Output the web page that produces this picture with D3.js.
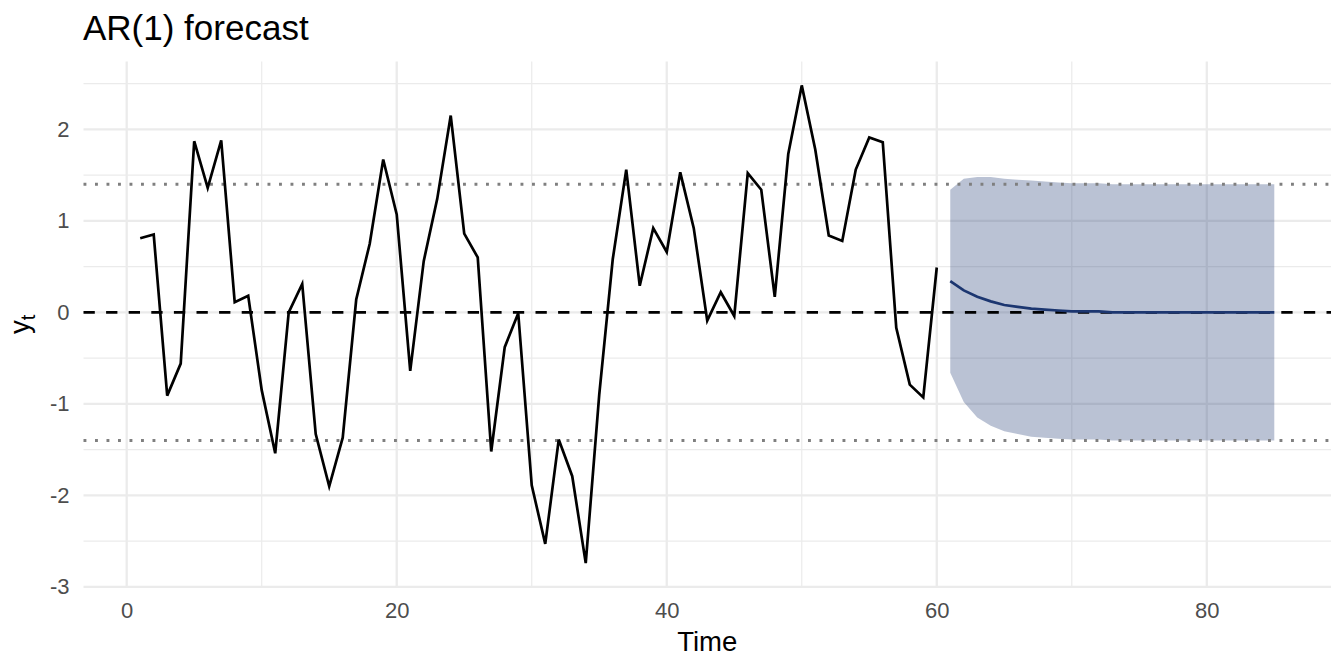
<!DOCTYPE html>
<html>
<head>
<meta charset="utf-8">
<script src="https://cdn.jsdelivr.net/npm/d3@7"></script>
<style>
  html, body { margin: 0; padding: 0; background: #ffffff; }
  svg text { font-family: "Liberation Sans", Arial, Helvetica, sans-serif; }
</style>
</head>
<body>
<div id="dataviz-container"></div>
<script>
// observed series, t = 1..60
const timeObs = d3.range(1, 61)
const yObs = [
    0.81, 0.85, -0.91, -0.56, 1.87, 1.36, 1.88, 0.11, 0.18, -0.85,
    -1.54, 0.00, 0.31, -1.33, -1.90, -1.37, 0.14, 0.75, 1.67, 1.07,
    -0.64, 0.56, 1.24, 2.15, 0.86, 0.60, -1.52, -0.38, -0.01, -1.89,
    -2.53, -1.39, -1.79, -2.74, -0.90, 0.58, 1.56, 0.29, 0.92, 0.66,
    1.53, 0.92, -0.09, 0.22, -0.04, 1.52, 1.34, 0.17, 1.73, 2.48,
    1.78, 0.84, 0.78, 1.56, 1.91, 1.86, -0.17, -0.79, -0.93, 0.49
]

// forecast, t = 61..85
const timeFc = d3.range(61, 86)
const fcMean = [
    0.34, 0.24, 0.17, 0.12, 0.08, 0.06, 0.04, 0.03, 0.02, 0.01,
    0.01, 0.01, 0.00, 0.00, 0.00, 0.00, 0.00, 0.00, 0.00, 0.00,
    0.00, 0.00, 0.00, 0.00, 0.00
]
const fcUpper = [
    1.34, 1.46, 1.48, 1.48, 1.46, 1.45, 1.44, 1.43, 1.42, 1.41,
    1.41, 1.41, 1.40, 1.40, 1.40, 1.40, 1.40, 1.40, 1.40, 1.40,
    1.40, 1.40, 1.40, 1.40, 1.40
]
const fcLower = [
    -0.66, -0.98, -1.15, -1.24, -1.30, -1.33, -1.36, -1.37, -1.38, -1.39,
    -1.39, -1.39, -1.40, -1.40, -1.40, -1.40, -1.40, -1.40, -1.40, -1.40,
    -1.40, -1.40, -1.40, -1.40, -1.40
]

// reference lines: mean and +/- limits
const hlineMean = 0
const hlineLimits = [-1.4, 1.4]

const xTicks = [0, 20, 40, 60, 80]
const xMinor = [10, 30, 50, 70]
const yTicks = [-3, -2, -1, 0, 1, 2]
const yMinor = [-2.5, -1.5, -0.5, 0.5, 1.5, 2.5]

const titleText = 'AR(1) forecast'
const xLabel = 'Time'

let margin = { top: 61.5, right: 13, bottom: 85, left: 83.5 }
let width = 1344 - margin.left - margin.right
let height = 672 - margin.top - margin.bottom

let obs = timeObs.map((t, i) => ({ t: t, y: yObs[i] }))
let fc = timeFc.map((t, i) => ({ t: t, m: fcMean[i], lo: fcLower[i], hi: fcUpper[i] }))

// ggplot-style 5% expansion
let xExt = [d3.min(timeObs), d3.max(timeFc)]
let xPad = (xExt[1] - xExt[0]) * 0.05
let allY = yObs.concat(fcUpper, fcLower, fcMean)
let yExt = d3.extent(allY)
let yPad = (yExt[1] - yExt[0]) * 0.05

let x = d3.scaleLinear()
    .domain([xExt[0] - xPad, xExt[1] + xPad])
    .range([0, width])

let y = d3.scaleLinear()
    .domain([yExt[0] - yPad, yExt[1] + yPad])
    .range([height, 0])

let svg = d3.select('#dataviz-container')
    .append('svg')
    .attr('width', 1344)
    .attr('height', 672)

let g = svg.append('g')
    .attr('transform', `translate(${margin.left}, ${margin.top})`)

// grid
const gridCol = '#ebebeb'
g.selectAll('.gy-minor').data(yMinor).enter().append('line')
    .attr('x1', 0).attr('x2', width)
    .attr('y1', (d) => y(d)).attr('y2', (d) => y(d))
    .attr('stroke', gridCol).attr('stroke-width', 1.2)
g.selectAll('.gx-minor').data(xMinor).enter().append('line')
    .attr('y1', 0).attr('y2', height)
    .attr('x1', (d) => x(d)).attr('x2', (d) => x(d))
    .attr('stroke', gridCol).attr('stroke-width', 1.2)
g.selectAll('.gy-major').data(yTicks).enter().append('line')
    .attr('x1', 0).attr('x2', width)
    .attr('y1', (d) => y(d)).attr('y2', (d) => y(d))
    .attr('stroke', gridCol).attr('stroke-width', 2.3)
g.selectAll('.gx-major').data(xTicks).enter().append('line')
    .attr('y1', 0).attr('y2', height)
    .attr('x1', (d) => x(d)).attr('x2', (d) => x(d))
    .attr('stroke', gridCol).attr('stroke-width', 2.3)

// forecast band
const fcCol = '#1c3670'
let area = d3.area()
    .x((d) => x(d.t))
    .y0((d) => y(d.lo))
    .y1((d) => y(d.hi))
g.append('path')
    .datum(fc)
    .attr('d', area)
    .attr('fill', fcCol)
    .attr('fill-opacity', 0.3)

// reference lines
g.selectAll('.limit').data(hlineLimits).enter().append('line')
    .attr('x1', 0).attr('x2', width)
    .attr('y1', (d) => y(d)).attr('y2', (d) => y(d))
    .attr('stroke', '#7f7f7f')
    .attr('stroke-width', 2.8)
    .attr('stroke-dasharray', '2.9,8.6')

g.append('line')
    .attr('x1', 0).attr('x2', width)
    .attr('y1', y(hlineMean)).attr('y2', y(hlineMean))
    .attr('stroke', '#000000')
    .attr('stroke-width', 2.8)
    .attr('stroke-dasharray', '11.3,11.3')

// forecast mean
let lineFc = d3.line()
    .x((d) => x(d.t))
    .y((d) => y(d.m))
g.append('path')
    .datum(fc)
    .attr('d', lineFc)
    .attr('fill', 'none')
    .attr('stroke', fcCol)
    .attr('stroke-width', 2.7)

// observed series
let lineObs = d3.line()
    .x((d) => x(d.t))
    .y((d) => y(d.y))
g.append('path')
    .datum(obs)
    .attr('d', lineObs)
    .attr('fill', 'none')
    .attr('stroke', '#000000')
    .attr('stroke-width', 2.7)
    .attr('stroke-linejoin', 'miter')

// axes (plain hyphen for negatives, as in the original)
let plain = (d) => String(d)
let xAxis = g.append('g')
    .attr('transform', `translate(0, ${height})`)
    .call(d3.axisBottom(x).tickValues(xTicks).tickSize(0).tickPadding(15).tickFormat(plain))
let yAxis = g.append('g')
    .call(d3.axisLeft(y).tickValues(yTicks).tickSize(0).tickPadding(14).tickFormat(plain))

;[xAxis, yAxis].forEach((a) => {
    a.select('.domain').remove()
    a.selectAll('text')
        .attr('fill', '#4d4d4d')
        .style('font-size', '22px')
        .style('font-family', '"Liberation Sans", Arial, Helvetica, sans-serif')
})

// titles
svg.append('text')
    .attr('x', 83)
    .attr('y', 40)
    .attr('font-size', '35px')
    .attr('fill', '#000000')
    .text(titleText)

svg.append('text')
    .attr('x', margin.left + width / 2)
    .attr('y', 651)
    .attr('text-anchor', 'middle')
    .attr('font-size', '27.5px')
    .attr('fill', '#000000')
    .text(xLabel)

let yl = svg.append('text')
    .attr('transform', `translate(29, ${margin.top + height / 2}) rotate(-90)`)
    .attr('text-anchor', 'middle')
    .attr('font-size', '27.5px')
    .attr('fill', '#000000')
yl.append('tspan').text('y')
yl.append('tspan')
    .attr('font-size', '20px')
    .attr('dy', '6')
    .text('t')
</script>
</body>
</html>
